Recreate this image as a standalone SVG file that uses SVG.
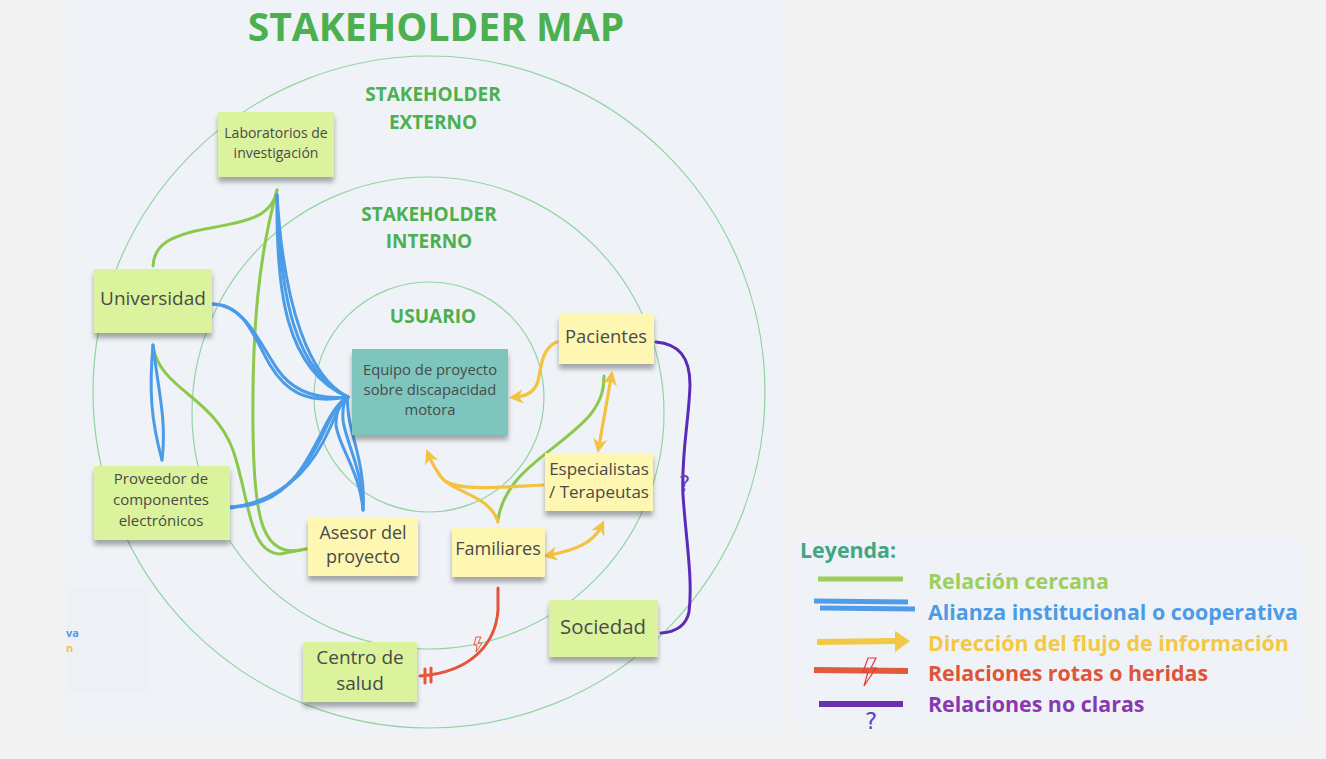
<svg xmlns="http://www.w3.org/2000/svg" width="1326" height="759" viewBox="0 0 1326 759">
  <defs>
    <filter id="note-shadow" x="-10%" y="-10%" width="120%" height="140%">
      <feDropShadow dx="0" dy="5" stdDeviation="2.5" flood-color="#000" flood-opacity="0.32"/>
    </filter>
    <marker id="arrow-y" viewBox="0 0 10 10" refX="5" refY="5" markerWidth="4.5" markerHeight="4.5" orient="auto-start-reverse">
      <path d="M0,0 L10,5 L0,10 L3,5 Z" fill="#f3c23e"/>
    </marker>
  </defs>
  <style>
    .ring { fill: none; stroke: #93d3a0; stroke-width: 1.2; }
    .zone { font-family: "Open Sans", "DejaVu Sans", sans-serif; font-weight: 700; fill: #4caf50; text-anchor: middle; }
    .note { filter: url(#note-shadow); }
    .green { fill: #dbf39c; }
    .yellow { fill: #fdf7b2; }
    .teal { fill: #7ec5be; }
    .label { font-family: "Open Sans", "DejaVu Sans", sans-serif; fill: #4a4a4a; text-anchor: middle; }
    .c-green { fill: none; stroke: #8cc84b; stroke-width: 3; stroke-linecap: round; }
    .c-blue { fill: none; stroke: #4c9be8; stroke-width: 3; stroke-linecap: round; }
    .c-yellow { fill: none; stroke: #f3c23e; stroke-width: 3.2; stroke-linecap: round; }
    .c-red { fill: none; stroke: #e4553a; stroke-width: 3; stroke-linecap: round; }
    .c-purple { fill: none; stroke: #5b2bb8; stroke-width: 3; stroke-linecap: round; }
    .leg { font-family: "Open Sans", "DejaVu Sans", sans-serif; font-weight: 700; font-size: 21.4px; }
    .qmark { font-family: "DejaVu Sans", sans-serif; font-weight: 400; fill: #5a45c8; }
  </style>

  <!-- page and panels -->
  <rect x="0" y="0" width="1326" height="759" fill="#f2f2f2"/>
  <rect x="67" y="0" width="716" height="734" fill="#eff3f7"/>
  <rect x="67" y="588" width="83" height="104" fill="#edf1f5"/>
  <text x="66" y="637" font-family="Open Sans, sans-serif" font-weight="700" font-size="11" fill="#4c9be8">va</text>
  <text x="66" y="652" font-family="Open Sans, sans-serif" font-weight="700" font-size="11" fill="#f3c23e">n</text>
  <rect x="793" y="537" width="510" height="194" fill="#eff3f7"/>

  <!-- title -->
  <text x="436" y="41" class="zone" font-size="39">STAKEHOLDER MAP</text>

  <!-- rings -->
  <g id="rings">
    <circle class="ring" cx="429" cy="392" r="336"/>
    <circle class="ring" cx="428" cy="413" r="236"/>
    <circle class="ring" cx="429" cy="397" r="115"/>
  </g>

  <!-- zone labels -->
  <g id="zone-labels">
    <text class="zone" x="433" y="101" font-size="19">STAKEHOLDER</text>
    <text class="zone" x="433" y="129" font-size="19">EXTERNO</text>
    <text class="zone" x="429" y="221" font-size="19">STAKEHOLDER</text>
    <text class="zone" x="429" y="248" font-size="19">INTERNO</text>
    <text class="zone" x="433" y="323" font-size="19">USUARIO</text>
  </g>

  <!-- connectors -->
  <g id="connectors">
    <!-- close relations -->
    <path class="c-green" d="M277,190 C272,218 245,222 205,229 C168,236 154,246 153,266"/>
    <path class="c-green" d="M277,190 C258,260 252,330 253,430 C254,520 262,560 306,549"/>
    <path class="c-green" d="M153,346 C160,390 212,395 233,450 C250,500 248,552 280,554 L306,549"/>
    <path class="c-green" d="M498,520 C505,470 560,450 590,415 C602,400 604,388 604,376"/>

    <!-- institutional alliances -->
    <path class="c-blue" d="M277,195 C276,290 285,370 348,397"/>
    <path class="c-blue" d="M277,195 C280,300 296,372 348,397"/>
    <path class="c-blue" d="M277,195 C284,310 310,378 348,397"/>
    <path class="c-blue" d="M213,304 C245,304 255,340 270,365 C285,390 305,405 348,397"/>
    <path class="c-blue" d="M213,304 C247,306 260,345 278,370 C292,390 315,400 348,397"/>
    <path class="c-blue" d="M231,507 C290,502 310,460 325,430 C333,412 340,400 348,397"/>
    <path class="c-blue" d="M231,507 C284,506 302,470 320,436 C330,415 338,402 348,397"/>
    <path class="c-blue" d="M231,508 C294,498 318,455 330,428 C337,412 342,401 348,397"/>
    <path class="c-blue" d="M363,510 C363,470 345,440 343,420 C342,405 345,400 348,397"/>
    <path class="c-blue" d="M363,510 C360,472 338,445 336,425 C336,407 342,400 348,397"/>
    <path class="c-blue" d="M363,510 C366,470 352,438 349,418 C347,404 347,400 348,397"/>
    <path class="c-blue" d="M153,345 C149,390 151,420 162,460"/>
    <path class="c-blue" d="M153,345 C158,390 167,420 162,460"/>

    <!-- information flow -->
    <path class="c-yellow" d="M557,342 C541,348 541,370 538,381 C535,392 527,396 516,397" marker-end="url(#arrow-y)"/>
    <path class="c-yellow" d="M498,522 C490,495 452,492 441,477 C434,467 431,461 429,456" marker-end="url(#arrow-y)"/>
    <path class="c-yellow" d="M543,485 C505,487 463,491 447,482"/>
    <path class="c-yellow" d="M611,378 L599,446" marker-start="url(#arrow-y)" marker-end="url(#arrow-y)"/>
    <path class="c-yellow" d="M550,555 C575,550 593,543 601,527" marker-start="url(#arrow-y)" marker-end="url(#arrow-y)"/>

    <!-- broken relation -->
    <path class="c-red" d="M498,588 L498,610 C496,640 475,672 420,676"/>
    <path class="c-red" d="M425,669 L425,683 M431,668 L431,682" stroke-width="2.5"/>
    <polygon points="476,637 481,637 478,643 482,643 476,652 477,645 474,645" fill="none" stroke="#e4553a" stroke-width="1"/>

    <!-- unclear relation -->
    <path class="c-purple" d="M656,342 C678,344 690,356 690,385 C689,420 681,455 683,495 C686,540 693,580 689,612 C686,626 675,632 661,633"/>
    <text class="qmark" x="679" y="491" font-size="21">?</text>
  </g>

  <!-- nodes -->
  <g id="node-laboratorios">
    <rect class="note green" x="218" y="112" width="116" height="65"/>
    <text class="label" font-size="14" x="276" y="138">Laboratorios de</text>
    <text class="label" font-size="14" x="276" y="158">investigación</text>
  </g>
  <g id="node-universidad">
    <rect class="note green" x="94" y="269" width="118" height="64"/>
    <text class="label" font-size="19" x="153" y="305">Universidad</text>
  </g>
  <g id="node-proveedor">
    <rect class="note green" x="94" y="466" width="136" height="74"/>
    <text class="label" font-size="15" x="161" y="484">Proveedor de</text>
    <text class="label" font-size="15" x="161" y="505">componentes</text>
    <text class="label" font-size="15" x="161" y="526">electrónicos</text>
  </g>
  <g id="node-equipo">
    <rect class="note teal" x="352" y="349" width="156" height="86"/>
    <text class="label" font-size="14.8" x="430" y="375">Equipo de proyecto</text>
    <text class="label" font-size="14.8" x="430" y="395">sobre discapacidad</text>
    <text class="label" font-size="14.8" x="430" y="415">motora</text>
  </g>
  <g id="node-pacientes">
    <rect class="note yellow" x="559" y="314" width="95" height="50"/>
    <text class="label" font-size="18.4" x="606" y="343">Pacientes</text>
  </g>
  <g id="node-especialistas">
    <rect class="note yellow" x="545" y="453" width="108" height="58"/>
    <text class="label" font-size="17" x="599" y="475">Especialistas</text>
    <text class="label" font-size="17" x="599" y="498">/ Terapeutas</text>
  </g>
  <g id="node-asesor">
    <rect class="note yellow" x="308" y="517" width="110" height="59"/>
    <text class="label" font-size="18" x="363" y="539">Asesor del</text>
    <text class="label" font-size="18" x="363" y="563">proyecto</text>
  </g>
  <g id="node-familiares">
    <rect class="note yellow" x="452" y="527" width="93" height="50"/>
    <text class="label" font-size="18" x="498" y="555">Familiares</text>
  </g>
  <g id="node-centro">
    <rect class="note green" x="303" y="642" width="114" height="60"/>
    <text class="label" font-size="19" x="360" y="664">Centro de</text>
    <text class="label" font-size="19" x="360" y="690">salud</text>
  </g>
  <g id="node-sociedad">
    <rect class="note green" x="549" y="600" width="109" height="57"/>
    <text class="label" font-size="20.4" x="603" y="634">Sociedad</text>
  </g>

  <!-- legend -->
  <g id="legend">
    <text class="leg" x="800" y="558" fill="#43a584">Leyenda:</text>
    <line x1="818" y1="579" x2="903" y2="579" stroke="#9ccf5a" stroke-width="5"/>
    <text class="leg" x="928" y="589" fill="#9ccf5e">Relación cercana</text>
    <line x1="814" y1="601" x2="908" y2="602" stroke="#4f9ce8" stroke-width="5"/>
    <line x1="820" y1="608" x2="915" y2="609" stroke="#4f9ce8" stroke-width="5"/>
    <text class="leg" x="928" y="620" fill="#4c9be6">Alianza institucional o cooperativa</text>
    <line x1="817" y1="642" x2="897" y2="641" stroke="#f2c844" stroke-width="6"/>
    <polygon points="895,631 910,641 895,652" fill="#f2c844"/>
    <text class="leg" x="928" y="651" fill="#f4c842">Dirección del flujo de información</text>
    <line x1="814" y1="670" x2="908" y2="671" stroke="#e25a3a" stroke-width="6"/>
    <polygon points="868,658 876,658 871,668 876,668 864,686 868,672 863,672" fill="none" stroke="#e8383a" stroke-width="1.2"/>
    <text class="leg" x="928" y="681" fill="#e0553a">Relaciones rotas o heridas</text>
    <line x1="819" y1="704" x2="903" y2="704" stroke="#6a30b2" stroke-width="6"/>
    <text class="qmark" x="865" y="729" font-size="23">?</text>
    <text class="leg" x="928" y="712" fill="#8a38b0">Relaciones no claras</text>
  </g>
</svg>
